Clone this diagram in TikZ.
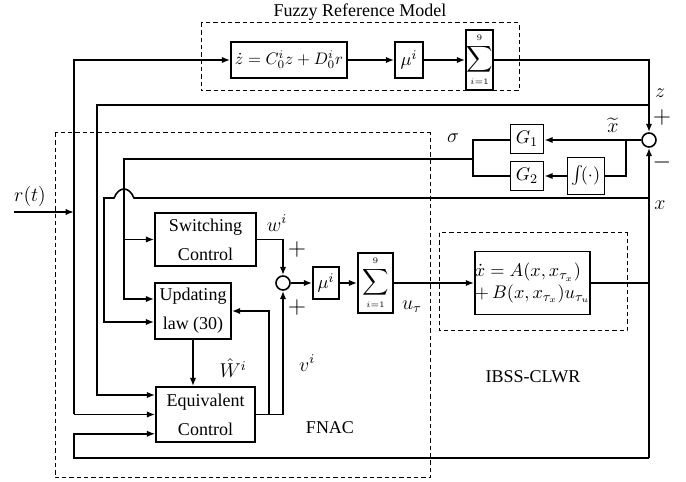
\documentclass[tikz,border=0pt]{standalone}
\usepackage{amsmath,amssymb}
\usepackage{fontspec}
\setmainfont{Liberation Serif}
\usepackage{tikz}
\usetikzlibrary{positioning,arrows.meta,calc}

\begin{document}
\begin{tikzpicture}[
    x=0.6pt, y=-0.6pt,
    blockBox/.style={rectangle, draw, line width=0.95pt, inner sep=0pt, align=center, font=\fontsize{10.8}{13}\selectfont},
    dashBox/.style={draw, line width=0.6pt, dash pattern=on 2.6pt off 1.8pt},
    sumNode/.style={circle, draw, line width=0.95pt, minimum size=8.4pt, inner sep=0pt},
    arrowStyle/.style={-{Latex[length=5pt,width=3.8pt]}, line width=0.95pt},
    lineStyle/.style={line width=0.95pt},
    labelText/.style={inner sep=0pt, font=\fontsize{10.8}{13}\selectfont},
    mathLabel/.style={inner sep=0pt, font=\fontsize{12}{14}\selectfont},
    signLabel/.style={inner sep=0pt, font=\fontsize{15}{17}\selectfont}
]
    \useasboundingbox[fill=white] (0,0) rectangle (686,482);

    % dashed frames
    \draw[dashBox] (201,23) rectangle (519,91);
    \draw[dashBox] (55,133) rectangle (430,478);
    \draw[dashBox] (439,233) rectangle (627,331);
    \node[labelText] (fuzzyTitle) at (360,12) {Fuzzy Reference Model};
    \node[labelText] (fnacLabel) at (330,428) {FNAC};
    \node[labelText] (plantLabel) at (533,377) {IBSS-CLWR};

    % reference model
    \node[blockBox, minimum width=69.6pt, minimum height=21.6pt, font=\fontsize{9.6}{12}\selectfont] (zdot) at (289,60) {$\dot z = C_0^i z + D_0^i r$};
    \node[blockBox, minimum width=16.8pt, minimum height=21.6pt] (muTop) at (409,60) {$\mu^i$};
    \node[blockBox, minimum width=16.2pt, minimum height=36pt, font=\fontsize{11}{13}\selectfont] (sumTop) at (479.5,60) {$\displaystyle\sum_{\scriptscriptstyle i=1}^{\scriptscriptstyle 9}$};

    % error and sliding surface
    \node[sumNode] (circ) at (649,140) {};
    \node[blockBox, minimum width=19.8pt, minimum height=17.4pt] (gOne) at (527,139) {$G_1$};
    \node[blockBox, minimum width=19.8pt, minimum height=17.4pt] (gTwo) at (527,176) {$G_2$};
    \node[blockBox, minimum width=22.2pt, minimum height=22.2pt] (integ) at (586,176) {$\int\!(\cdot)$};

    % controller
    \node[blockBox, minimum width=60.6pt, minimum height=31.8pt] (switching) at (205.5,239.5) {Switching\\[4.5pt]Control};
    \node[blockBox, minimum width=45.6pt, minimum height=33.6pt] (updating) at (193,311) {Updating\\[4.5pt]law (30)};
    \node[blockBox, minimum width=59.4pt, minimum height=33pt] (equivalent) at (205.5,414.5) {Equivalent\\[4.5pt]Control};
    \node[sumNode] (circB) at (283,283) {};
    \node[blockBox, minimum width=15.6pt, minimum height=19.2pt] (muBot) at (326,283) {$\mu^i$};
    \node[blockBox, minimum width=21pt, minimum height=36pt, font=\fontsize{11}{13}\selectfont] (sumBot) at (375.5,283) {$\displaystyle\sum_{\scriptscriptstyle i=1}^{\scriptscriptstyle 9}$};

    % plant
    \node[blockBox, minimum width=66.6pt, minimum height=37.8pt, align=left] (plant) at (532.5,283) {$\dot x = A(x, x_{\tau_x})$\\$+\,B(x, x_{\tau_x})u_{\tau_u}$};

    % bus points
    \coordinate (rStart) at (14,212);
    \coordinate (rBus) at (74,414.5);
    \coordinate (zTap) at (649,105);
    \coordinate (zBus) at (97,395);
    \coordinate (xTap) at (649,198);
    \coordinate (xBus) at (104,322);
    \coordinate (xBottom) at (649,458);
    \coordinate (xtTap) at (626,140);
    \coordinate (sigJoin) at (473,159);
    \coordinate (sigBus) at (124,239.5);
    \coordinate (sigIn) at ($(updating.west)+(0,-12)$);
    \coordinate (fbIn) at ($(equivalent.south west)+(0,-9)$);
    \coordinate (vTap) at (269,414.5);

    % reference model path
    \draw[arrowStyle] (rStart) -- (rStart -| rBus);
    \draw[arrowStyle] (rBus) |- (zdot.west);
    \draw[arrowStyle] (rBus) -- (equivalent.west);
    \draw[arrowStyle] (zdot) -- (muTop);
    \draw[arrowStyle] (muTop) -- (sumTop);
    \draw[arrowStyle] (sumTop.east) -| (circ.north);
    \draw[arrowStyle] (zTap) -| (zBus) -- (zBus -| equivalent.west);

    % error filters
    \draw[arrowStyle] (circ.west) -- (gOne.east |- circ.west);
    \draw[lineStyle] (xtTap) |- (integ.east);
    \draw[arrowStyle] (integ.west) -- (gTwo.east);
    \draw[lineStyle] (gOne.west |- circ.west) -| (sigJoin) |- (gTwo.west);
    \draw[arrowStyle] (sigJoin) -- (sigJoin -| sigBus) |- (sigIn);
    \draw[arrowStyle] (sigBus) -- (switching.west);

    % state feedback
    \draw[arrowStyle] (xBottom) -- (circ.south);
    \draw[lineStyle] (plant.east) -- (plant.east -| xBottom);
    \draw[arrowStyle] (xTap) -- (134,198) .. controls (129,186) and (119,186) .. (114,198) -- (104,198) |- (xBus -| updating.west);
    \draw[arrowStyle] (xBottom) -- (xBottom -| rBus) |- (fbIn);

    % control law
    \draw[arrowStyle] (switching.east) -| (circB.north);
    \draw[arrowStyle] (equivalent.east) -| (circB.south);
    \draw[arrowStyle] (vTap) |- (updating.east);
    \draw[arrowStyle] (updating.south) -- (updating.south |- equivalent.north);
    \draw[arrowStyle] (circB) -- (muBot);
    \draw[arrowStyle] (muBot) -- (sumBot);
    \draw[arrowStyle] (sumBot) -- (plant);

    % signal labels
    \node[mathLabel] (zLabel) at (660,93) {$z$};
    \node[signLabel] (plusZ) at (662,118) {$+$};
    \node[signLabel] (minusX) at (662,163) {$-$};
    \node[mathLabel] (xtLabel) at (613,125) {$\widetilde{x}$};
    \node[mathLabel] (xLabel) at (660,205) {$x$};
    \node[mathLabel] (sigLabel) at (453,138) {$\sigma$};
    \node[mathLabel] (rLabel) at (30,197) {$r(t)$};
    \node[mathLabel] (wLabel) at (277,223) {$w^i$};
    \node[signLabel] (plusW) at (297,250) {$+$};
    \node[signLabel] (plusV) at (297,308) {$+$};
    \node[mathLabel] (uLabel) at (412,307) {$u_\tau$};
    \node[mathLabel] (vLabel) at (307,363) {$v^i$};
    \node[mathLabel] (wHatLabel) at (233,368) {$\hat{W}^i$};
\end{tikzpicture}
\end{document}
